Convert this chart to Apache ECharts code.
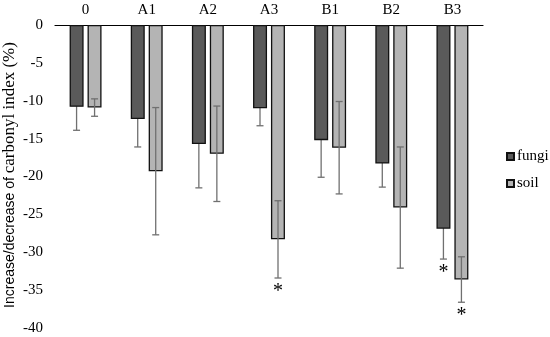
<!DOCTYPE html>
<html><head><meta charset="utf-8">
<script src="https://cdn.jsdelivr.net/npm/echarts@6/dist/echarts.min.js"></script>
<style>html,body{margin:0;padding:0;background:#fff}#c{width:550px;height:337px}</style>
</head><body><div id="c"></div>
<script>
const categories = ['0','A1','A2','A3','B1','B2','B3'];
const fungi = [-10.8, -12.4, -15.7, -11.0, -15.2, -18.3, -26.9];
const fungiErr = [3.1, 3.7, 5.8, 2.3, 4.9, 3.1, 4.0];
const soil = [-10.9, -19.3, -17.0, -28.3, -16.2, -24.1, -33.6];
const soilErr = [1.15, 8.4, 6.3, 5.1, 6.1, 8.0, 3.0];
const fungiStar = [false, false, false, false, false, false, true];
const soilStar = [false, false, false, true, false, false, true];
const yTicks = [0,-5,-10,-15,-20,-25,-30,-35,-40];

const FONT = 'Liberation Serif';
const SANS = 'Liberation Sans';
const BW = 14, OFF = 9;

function errSeries(vals, errs, stars, off, name, z) {
  return {
    type: 'custom', name: name + '_err', silent: true, z: z,
    data: vals.map((v, i) => [i, v, errs[i], stars[i] ? 1 : 0]),
    renderItem: function (params, api) {
      const i = api.value(0), v = api.value(1), e = api.value(2), s = api.value(3);
      const top = api.coord([i, v + e]);
      const bot = api.coord([i, v - e]);
      const x = top[0] + off;
      const st = { stroke: '#707070', lineWidth: 1.3 };
      const ch = [
        { type: 'line', shape: { x1: x, y1: top[1], x2: x, y2: bot[1] }, style: st },
        { type: 'line', shape: { x1: x - 3.5, y1: top[1], x2: x + 3.5, y2: top[1] }, style: st },
        { type: 'line', shape: { x1: x - 3.5, y1: bot[1], x2: x + 3.5, y2: bot[1] }, style: st }
      ];
      if (s) ch.push({ type: 'text', style: { text: '*', x: x, y: bot[1] + 4, align: 'center', verticalAlign: 'top', font: '20px ' + FONT, fill: '#000' } });
      return { type: 'group', children: ch };
    }
  };
}

const chart = echarts.init(document.getElementById('c'));
chart.setOption({
  animation: false,
  backgroundColor: '#fff',
  textStyle: { fontFamily: FONT },
  grid: { left: 55, right: 67, top: 25, bottom: 9, containLabel: false, outerBoundsMode: 'none' },
  graphic: [{
    type: 'text', x: 10, y: 175, rotation: Math.PI / 2,
    style: {
      text: '{a|Increase/decrease of }{b|carbonyl index (%)}',
      align: 'center', verticalAlign: 'middle', fill: '#000',
      rich: {
        a: { fontFamily: SANS, fontSize: 14, fill: '#000', color: '#000' },
        b: { fontFamily: FONT, fontSize: 17, fill: '#000', color: '#000' }
      }
    }
  }],
  legend: {
    orient: 'vertical', left: 506, top: 149, padding: 0, itemWidth: 7, itemHeight: 7, itemGap: 12, icon: 'rect',
    data: ['fungi', 'soil'],
    textStyle: { fontFamily: FONT, fontSize: 15, color: '#000', padding: [0, 0, 0, -2] }
  },
  xAxis: {
    type: 'category', data: categories, position: 'top',
    axisLine: { lineStyle: { color: '#000', width: 1.2 } },
    axisTick: { show: false },
    axisLabel: { fontFamily: FONT, fontSize: 15, color: '#000', margin: 7 }
  },
  yAxis: {
    type: 'value', min: -40, max: 0, interval: 5,
    axisLine: { show: false }, axisTick: { show: false }, splitLine: { show: false },
    axisLabel: { fontFamily: FONT, fontSize: 15, color: '#000', margin: 12 }
  },
  series: [
    errSeries(fungi, fungiErr, fungiStar, -OFF, 'fungi', 1),
    { name: 'fungi', type: 'bar', data: fungi, barWidth: BW, barGap: '28%', z: 2,
      itemStyle: { color: '#5a5a5a', borderColor: '#111', borderWidth: 1.3 } },
    { name: 'soil', type: 'bar', data: soil, barWidth: BW, z: 2,
      itemStyle: { color: '#b4b4b4', borderColor: '#111', borderWidth: 1.3 } },
    errSeries(soil, soilErr, soilStar, OFF, 'soil', 5)
  ]
});
</script></body></html>
